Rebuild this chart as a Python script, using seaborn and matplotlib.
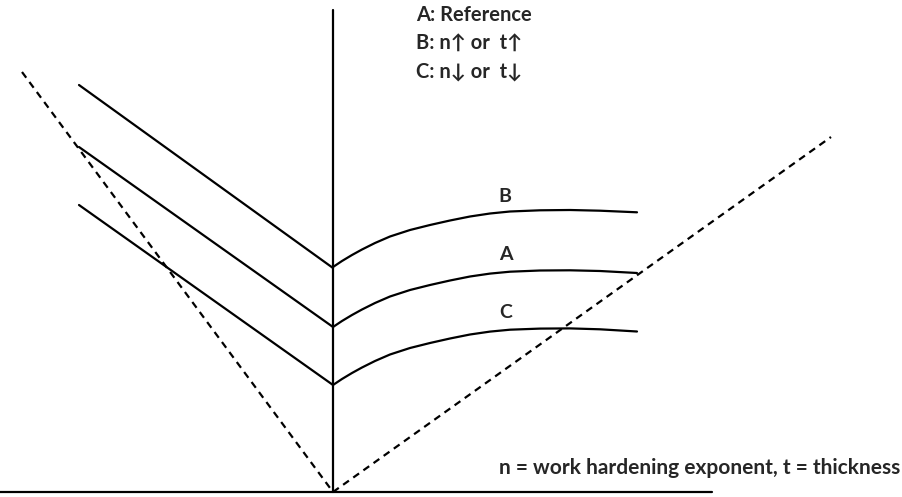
import matplotlib
matplotlib.use("Agg")
import matplotlib.pyplot as plt
import seaborn as sns
import pandas as pd

sns.set_theme(style="white")
plt.rcParams['font.family'] = ['Lato', 'DejaVu Sans']

# Diagram geometry (pixel-like units, y increases downward)
axis_x = [333, 333]
axis_y = [10, 492]
base_x = [0, 712]
base_y = [492, 492]
dash_left_x = [22, 333]
dash_left_y = [72, 492]
dash_right_x = [333, 831]
dash_right_y = [492, 137]

left_x = [79, 333]
left_B = [85, 268]
left_A = [147, 327]
left_C = [205, 385]

curve_x = [333, 342, 352, 362, 375, 390, 410, 430, 450, 470, 490, 510, 540, 570, 600, 637]
curve_B = [267, 261, 255, 249.5, 243, 236.5, 230, 225, 220.5, 216.5, 213.5, 211.5, 210.3, 210, 210.7, 212.3]
curve_A = [327, 321, 315, 309.5, 303, 296.5, 290, 285, 280.5, 276.5, 273.6, 271.7, 270.5, 270.3, 271, 273]
curve_C = [385, 379, 373, 367.5, 361, 354.5, 348, 343, 338.5, 334.5, 331.6, 329.7, 328.6, 328.4, 329.3, 331.5]

labels = ["B", "A", "C"]
label_x = [505, 506, 506]
label_y = [197, 255, 313]

legend_lines = ["A: Reference", "B: n\u2191 or  t\u2191", "C: n\u2193 or  t\u2193"]
legend_y = [15, 43, 72]
note = "n = work hardening exponent, t = thickness"

fig = plt.figure(figsize=(9.02, 4.97), dpi=100)
ax = fig.add_axes([0, 0, 1, 1])
ax.set_xlim(0, 902)
ax.set_ylim(497, 0)
ax.axis("off")

kw = dict(color="black", linewidth=1.6, sort=False, estimator=None, ax=ax, legend=False)

def seg(xs, ys, **extra):
    df = pd.DataFrame({"x": xs, "y": ys})
    sns.lineplot(data=df, x="x", y="y", **kw, **extra)

seg(axis_x, axis_y)
seg(base_x, base_y)
seg(dash_left_x, dash_left_y, linestyle=(0, (3.2, 2.4)))
seg(dash_right_x, dash_right_y, linestyle=(0, (3.2, 2.4)))
for ly in (left_B, left_A, left_C):
    seg(left_x, ly)
for cy in (curve_B, curve_A, curve_C):
    seg(curve_x, cy)

for lab, x, y in zip(labels, label_x, label_y):
    ax.text(x, y, lab, fontsize=14, fontweight="bold", ha="center", va="center")

for t, y in zip(legend_lines, legend_y):
    ax.text(416, y, t, fontsize=14.5, fontweight="bold", ha="left", va="center")

ax.text(900, 468, note, fontsize=15, fontweight="bold", ha="right", va="center")
ax.set_xlabel("")
ax.set_ylabel("")

fig.savefig("out.png", dpi=100)
